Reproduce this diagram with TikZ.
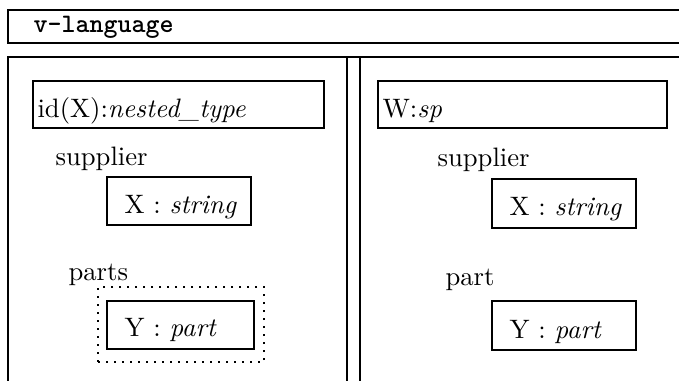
\documentclass[tikz,border=0pt]{standalone}
\usetikzlibrary{fit}
\begin{document}
\begin{tikzpicture}[x=0.375pt,y=-0.375pt,
  frame/.style={line width=0.5pt},
  typebox/.style={draw,line width=0.5pt,inner sep=0pt},
  setbox/.style={draw,line width=0.75pt,dash pattern=on 0.75pt off 2.25pt,inner sep=0pt},
  lbl/.style={anchor=base west,inner sep=0pt,font=\normalsize}]
\useasboundingbox (0,0) rectangle (679,381);
% title bar
\coordinate (t1) at (679,10);
\coordinate (t2) at (8,10);
\coordinate (t3) at (8,43);
\coordinate (t4) at (679,43);
\draw[frame] (t1) -- (t2) -- (t3) -- (t4);
\node[lbl] (title) at (33,33) {\texttt{\bfseries v-language}};
% main frame with double divider
\coordinate (m1) at (679,57);
\coordinate (m2) at (8,57);
\coordinate (m3) at (8,381);
\draw[frame] (m1) -- (m2) -- (m3);
\coordinate (d1a) at (347,57);
\coordinate (d1b) at (347,381);
\coordinate (d2a) at (360,57);
\coordinate (d2b) at (360,381);
\draw[frame] (d1a) -- (d1b);
\draw[frame] (d2a) -- (d2b);
% left pane: nested type
\node[typebox,fit={(33,81) (324,128)}] (idbox) {};
\node[lbl] (idtxt) at (37,118) {id(X):\textit{nested\_type}};
\node[lbl] (supL) at (55,165) {supplier};
\node[typebox,fit={(107,177) (251,225)}] (xboxL) {};
\node[lbl] (xtxtL) at (124,213) {X : \textit{string}};
\node[lbl] (partsL) at (68,280) {parts};
\node[setbox,fit={(98,287) (264,362)}] (setL) {};
\node[typebox,fit={(107,301) (254,349)}] (yboxL) {};
\node[lbl] (ytxtL) at (124,336) {Y : \textit{part}};
% right pane: flat type
\node[typebox,fit={(378,81) (667,128)}] (wbox) {};
\node[lbl] (wtxt) at (382,118) {W:\textit{sp}};
\node[lbl] (supR) at (437,166) {supplier};
\node[typebox,fit={(492,179) (636,228)}] (xboxR) {};
\node[lbl] (xtxtR) at (509,215) {X : \textit{string}};
\node[lbl] (partR) at (445,285) {part};
\node[typebox,fit={(492,301) (636,350)}] (yboxR) {};
\node[lbl] (ytxtR) at (509,338) {Y : \textit{part}};
\end{tikzpicture}
\end{document}
